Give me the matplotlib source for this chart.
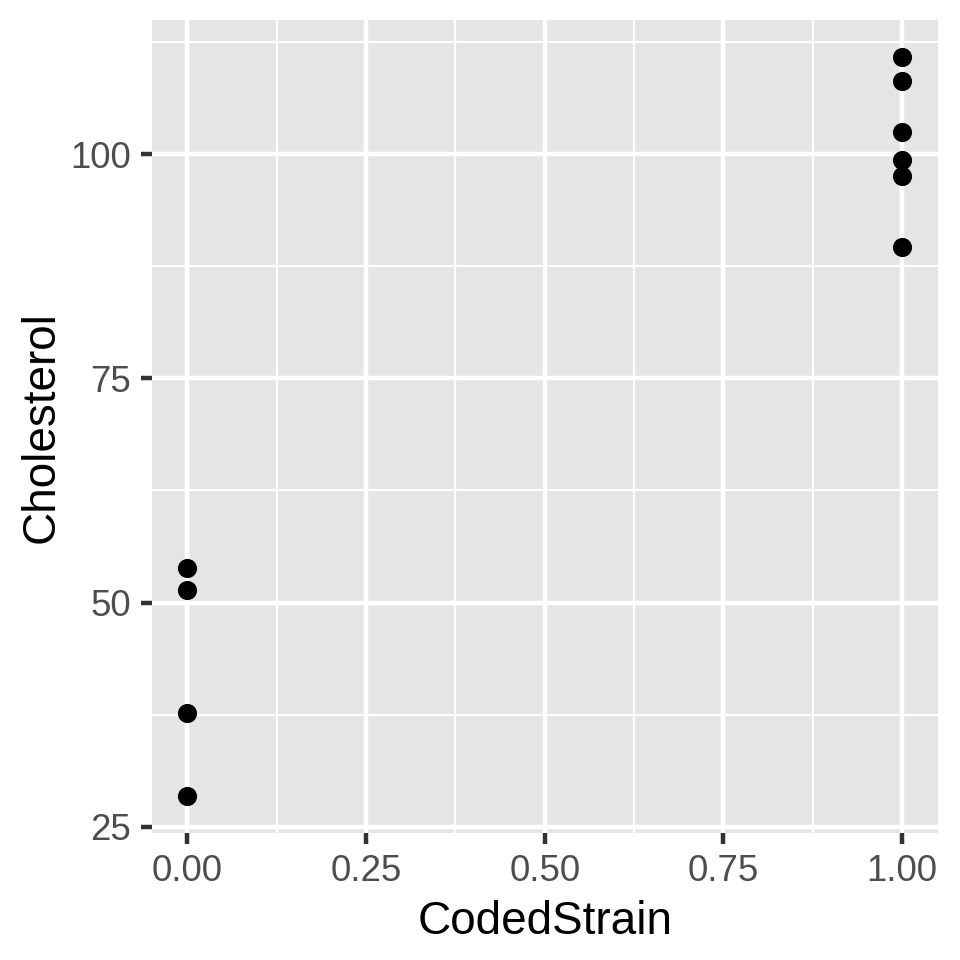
import matplotlib
matplotlib.use("Agg")
import matplotlib.pyplot as plt
import numpy as np

# CodedStrain vs Cholesterol
coded_strain = [1, 1, 1, 1, 1, 1, 0, 0, 0, 0]
cholesterol = [110.8, 108.1, 102.4, 99.3, 97.6, 89.6, 53.9, 51.4, 37.7, 28.4]

x_ticks = [0.0, 0.25, 0.5, 0.75, 1.0]
x_tick_labels = ["0.00", "0.25", "0.50", "0.75", "1.00"]
y_ticks = [25, 50, 75, 100]

plt.rcParams['font.family'] = ['Liberation Sans', 'DejaVu Sans']

fig = plt.figure(figsize=(3.2, 3.2), dpi=300)
ax = fig.add_axes([0.158, 0.132, 0.819, 0.847])

ax.set_facecolor('#E5E5E5')
for s in ax.spines.values():
    s.set_visible(False)

# ggplot style 5% expansion
xmin, xmax = min(coded_strain), max(coded_strain)
ymin, ymax = min(cholesterol), max(cholesterol)
xr, yr = xmax - xmin, ymax - ymin
ax.set_xlim(xmin - 0.05 * xr, xmax + 0.05 * xr)
ax.set_ylim(ymin - 0.05 * yr, ymax + 0.05 * yr)

ax.set_xticks(x_ticks)
ax.set_xticklabels(x_tick_labels)
ax.set_yticks(y_ticks)
ax.set_xticks([0.125, 0.375, 0.625, 0.875], minor=True)
ax.set_yticks([37.5, 62.5, 87.5, 112.5], minor=True)

ax.grid(which='major', color='white', linewidth=1.07)
ax.grid(which='minor', color='white', linewidth=0.53)
ax.set_axisbelow(True)

ax.tick_params(which='major', direction='out', length=2.75, width=1.07,
               color='#333333', labelcolor='#4D4D4D', labelsize=8.8, pad=2.2)
ax.tick_params(which='minor', length=0)

ax.scatter(coded_strain, cholesterol, s=4.6 ** 2, color='black',
           linewidths=0, zorder=3)

ax.set_xlabel('CodedStrain', fontsize=11, labelpad=2.75)
ax.set_ylabel('Cholesterol', fontsize=11, labelpad=1.6)

fig.savefig('out.png', dpi=300)
